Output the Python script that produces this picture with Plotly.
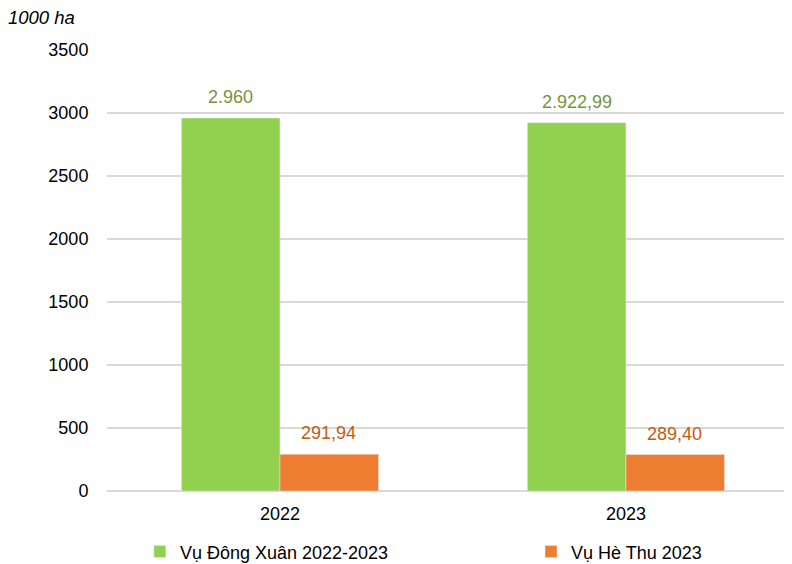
import plotly.graph_objects as go

years = ["2022", "2023"]
dong_xuan = [2960.0, 2922.99]
he_thu = [291.94, 289.40]
dong_xuan_labels = ["2.960", "2.922,99"]
he_thu_labels = ["291,94", "289,40"]
series_names = ["Vụ Đông Xuân 2022-2023", "Vụ Hè Thu 2023"]
unit_label = "1000 ha"

GREEN = "#92D050"
ORANGE = "#ED7D31"

fig = go.Figure()
fig.add_trace(go.Bar(x=years, y=dong_xuan, name=series_names[0], marker_color=GREEN,
                     legend="legend"))
fig.add_trace(go.Bar(x=years, y=he_thu, name=series_names[1], marker_color=ORANGE,
                     legend="legend2"))

for i, yr in enumerate(years):
    fig.add_annotation(x=i, y=dong_xuan[i], text=dong_xuan_labels[i], showarrow=False,
                       xshift=-49, yshift=21, font=dict(size=18, color="#77933C"))
    fig.add_annotation(x=i, y=he_thu[i], text=he_thu_labels[i], showarrow=False,
                       xshift=49, yshift=21, font=dict(size=18, color="#C55A11"))

fig.add_annotation(xref="paper", yref="paper", x=-0.147, y=1.0726, xanchor="left", yanchor="middle",
                   text=unit_label, showarrow=False, font=dict(size=18.5, color="#000000", style="italic"))

legend_common = dict(orientation="h", yanchor="middle", y=-0.138, xanchor="left",
                     font=dict(size=18), itemwidth=30, bgcolor="rgba(0,0,0,0)")

# The page body adds an 8px offset, so margins are reduced by 8px on left/top.
fig.update_layout(
    width=792, height=564,
    margin=dict(l=99, r=8, t=42, b=81, autoexpand=False),
    paper_bgcolor="white", plot_bgcolor="white",
    font=dict(family="Liberation Sans, Arial, sans-serif", size=18, color="#000000"),
    barmode="group", bargap=0.43, bargroupgap=0,
    showlegend=True,
    legend=dict(x=0.048, **legend_common),
    legend2=dict(x=0.619, **legend_common),
    xaxis=dict(type="category", range=[-0.5, 1.48], showgrid=False, showline=False,
               ticks="outside", ticklen=6, tickcolor="rgba(0,0,0,0)", tickfont=dict(size=18)),
    yaxis=dict(range=[0, 3500], dtick=500, showgrid=True, gridcolor="#D9D9D9", gridwidth=1.5,
               zeroline=True, zerolinecolor="#D9D9D9", zerolinewidth=1.5,
               showline=False, ticks="outside", ticklen=14, tickcolor="rgba(0,0,0,0)",
               tickfont=dict(size=18)),
)

fig.write_html("out.html")
